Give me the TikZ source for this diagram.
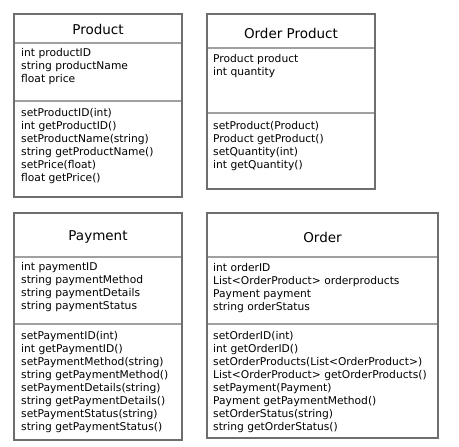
\documentclass[tikz,border=0pt]{standalone}
\usepackage{fontspec}
\setmainfont{DejaVu Sans}
\usetikzlibrary{positioning}

\definecolor{boxgray}{HTML}{6E6E6E}
\definecolor{rulegray}{HTML}{A0A0A0}

\begin{document}
\begin{tikzpicture}[
        x=1pt, y=-1pt,
        classbox/.style={draw=boxgray, line width=2.8pt, fill=white},
        title/.style={font=\fontsize{13.5}{16}\selectfont, anchor=center},
        members/.style={font=\fontsize{10.7}{13}\selectfont, align=left, anchor=north west, inner sep=0pt},
        divider/.style={draw=rulegray, line width=1.3pt},
    ]
        \useasboundingbox (0,0) rectangle (459,447);

        % Product
        \draw[classbox] (14,14) rectangle (182,197);
        \node[title] (product) at (98,29) {Product};
        \draw[divider] (15.4,43) -- (180.6,43);
        \node[members] (productattr) at (21,48.3) {int productID\\string productName\\float price};
        \draw[divider] (15.4,101) -- (180.6,101);
        \node[members] (productops) at (21,108.3) {setProductID(int)\\int getProductID()\\setProductName(string)\\string getProductName()\\setPrice(float)\\float getPrice()};

        % Order Product
        \draw[classbox] (207,14) rectangle (375,189);
        \node[title] (orderproduct) at (291,33) {Order Product};
        \draw[divider] (208.4,48) -- (373.6,48);
        \node[members] (orderproductattr) at (213,54.3) {Product product\\int quantity};
        \draw[divider] (208.4,113) -- (373.6,113);
        \node[members] (orderproductops) at (213,121.3) {setProduct(Product)\\Product getProduct()\\setQuantity(int)\\int getQuantity()};

        % Payment
        \draw[classbox] (14,213) rectangle (182,440);
        \node[title] (payment) at (98,237) {Payment};
        \draw[divider] (15.4,257) -- (180.6,257);
        \node[members] (paymentattr) at (21,262.3) {int paymentID\\string paymentMethod\\string paymentDetails\\string paymentStatus};
        \draw[divider] (15.4,324) -- (180.6,324);
        \node[members] (paymentops) at (21,331.3) {setPaymentID(int)\\int getPaymentID()\\setPaymentMethod(string)\\string getPaymentMethod()\\setPaymentDetails(string)\\string getPaymentDetails()\\setPaymentStatus(string)\\string getPaymentStatus()};

        % Order
        \draw[classbox] (207,213) rectangle (438,438);
        \node[title] (order) at (322.5,237) {Order};
        \draw[divider] (208.4,257) -- (436.6,257);
        \node[members] (orderattr) at (213,263.3) {int orderID\\List<OrderProduct> orderproducts\\Payment payment\\string orderStatus};
        \draw[divider] (208.4,324) -- (436.6,324);
        \node[members] (orderops) at (213,331.3) {setOrderID(int)\\int getOrderID()\\setOrderProducts(List<OrderProduct>)\\List<OrderProduct> getOrderProducts()\\setPayment(Payment)\\Payment getPaymentMethod()\\setOrderStatus(string)\\string getOrderStatus()};
    \end{tikzpicture}
\end{document}
